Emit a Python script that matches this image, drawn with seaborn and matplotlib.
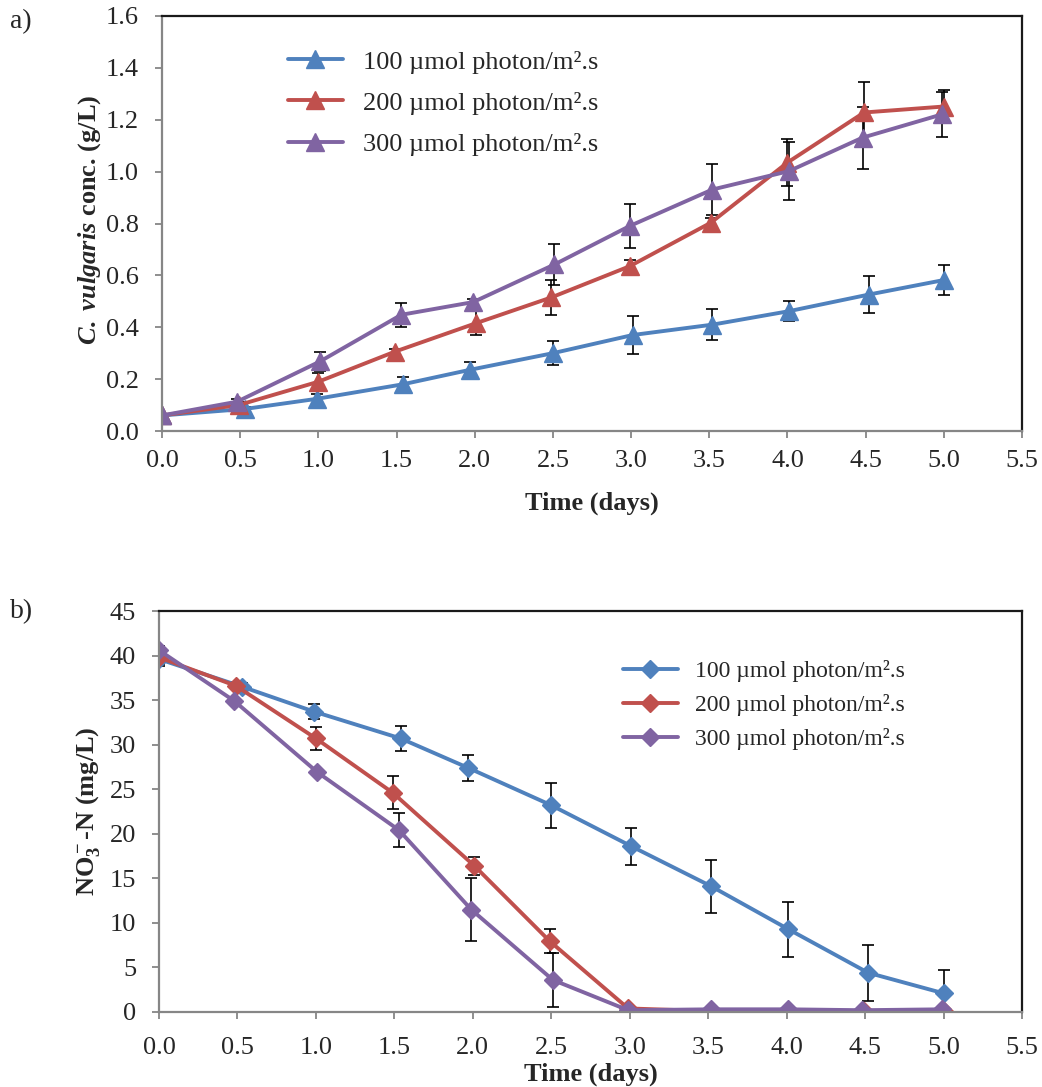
import numpy as np
import pandas as pd
import matplotlib
matplotlib.use("Agg")
import matplotlib.pyplot as plt
from matplotlib.ticker import FormatStrFormatter
import seaborn as sns

# ---------------- data ----------------
series_labels = ["100 µmol photon/m².s", "200 µmol photon/m².s", "300 µmol photon/m².s"]
colors = ["#4F81BD", "#C0504D", "#8064A2"]

time_100 = [0, 0.53, 0.99, 1.54, 1.97, 2.50, 3.01, 3.52, 4.01, 4.52, 5.00]
time_200 = [0, 0.49, 1.00, 1.49, 2.01, 2.49, 2.99, 3.51, 4.00, 4.49, 5.00]
time_300 = [0, 0.48, 1.01, 1.53, 1.99, 2.51, 2.99, 3.52, 4.01, 4.48, 4.99]

# a) C. vulgaris concentration (g/L)
cv_100 = [0.06, 0.085, 0.124, 0.18, 0.236, 0.30, 0.37, 0.41, 0.462, 0.526, 0.582]
cv_100_err = [0.005, 0.008, 0.02, 0.027, 0.03, 0.046, 0.073, 0.06, 0.039, 0.07, 0.058]
cv_200 = [0.06, 0.10, 0.19, 0.306, 0.416, 0.515, 0.635, 0.803, 1.035, 1.228, 1.251]
cv_200_err = [0.005, 0.01, 0.035, 0.01, 0.045, 0.067, 0.023, 0.017, 0.09, 0.118, 0.062]
cv_300 = [0.06, 0.113, 0.268, 0.448, 0.497, 0.642, 0.79, 0.931, 1.002, 1.131, 1.221]
cv_300_err = [0.005, 0.01, 0.036, 0.046, 0.01, 0.078, 0.084, 0.099, 0.112, 0.12, 0.087]

# b) NO3--N (mg/L)
no3_100 = [39.6, 36.5, 33.7, 30.7, 27.4, 23.2, 18.6, 14.1, 9.3, 4.4, 2.1]
no3_100_err = [0.8, 0.4, 0.85, 1.4, 1.46, 2.53, 2.06, 3.0, 3.1, 3.15, 2.6]
no3_200 = [39.8, 36.6, 30.7, 24.6, 16.4, 7.95, 0.4, 0.1, 0.1, 0.1, 0.15]
no3_200_err = [0.8, 0.4, 1.27, 1.84, 1.05, 1.35, 0.2, 0.1, 0.1, 0.1, 0.1]
no3_300 = [40.6, 34.9, 26.9, 20.4, 11.5, 3.6, 0.2, 0.3, 0.3, 0.2, 0.3]
no3_300_err = [0.5, 0.3, 0.3, 1.93, 3.5, 3.07, 0.1, 0.1, 0.1, 0.1, 0.1]

x_ticks = [0.0, 0.5, 1.0, 1.5, 2.0, 2.5, 3.0, 3.5, 4.0, 4.5, 5.0, 5.5]
y_ticks_a = [0.0, 0.2, 0.4, 0.6, 0.8, 1.0, 1.2, 1.4, 1.6]
y_ticks_b = [0, 5, 10, 15, 20, 25, 30, 35, 40, 45]

# ---------------- style ----------------
sns.set_style("ticks")
plt.rcParams["font.family"] = ["Liberation Serif", "DejaVu Serif"]
plt.rcParams["mathtext.fontset"] = "custom"
plt.rcParams["mathtext.rm"] = "Liberation Serif:bold"
plt.rcParams["mathtext.it"] = "Liberation Serif:italic:bold"
plt.rcParams["mathtext.bf"] = "Liberation Serif:bold"

FS = 19
AXIS_GRAY = "#868686"

fig = plt.figure(figsize=(10.42, 10.87), dpi=100)
W, H = 1042, 1087
ax1 = fig.add_axes([162 / W, 1 - 431 / H, (1022 - 162) / W, (431 - 16) / H])
ax2 = fig.add_axes([159 / W, 1 - 1012 / H, (1022 - 159) / W, (1012 - 611) / H])

times = [time_100, time_200, time_300]


def draw(ax, values, errs, marker, ms):
    frames = [pd.DataFrame({"Time": t, "Value": v, "Series": lab})
              for lab, t, v in zip(series_labels, times, values)]
    df = pd.concat(frames, ignore_index=True)
    for t, v, e in zip(times, values, errs):
        ax.errorbar(t, v, yerr=e, fmt="none", ecolor="black", elinewidth=1.2,
                    capsize=4.5, capthick=1.2, zorder=1)
    n0 = len(ax.lines)
    sns.lineplot(data=df, x="Time", y="Value", hue="Series", hue_order=series_labels,
                 palette=dict(zip(series_labels, colors)), estimator=None, sort=False,
                 marker=marker, markersize=ms, linewidth=2.8, legend=False, ax=ax, zorder=2)
    new_lines = ax.lines[n0:]
    for ln in new_lines:
        ln.set_markeredgecolor(ln.get_color())
        ln.set_markeredgewidth(1.0)
    return new_lines


def style_axes(ax, yticks, yfmt, xpad):
    ax.set_xlim(0, 5.5)
    ax.set_ylim(yticks[0], yticks[-1])
    ax.set_xticks(x_ticks)
    ax.set_yticks(yticks)
    ax.xaxis.set_major_formatter(FormatStrFormatter("%.1f"))
    ax.yaxis.set_major_formatter(FormatStrFormatter(yfmt))
    ax.tick_params(axis="both", direction="out", length=5, width=1.3, color=AXIS_GRAY,
                   labelsize=FS)
    ax.tick_params(axis="x", pad=xpad)
    ax.tick_params(axis="y", pad=11.5)
    for s in ["left", "bottom"]:
        ax.spines[s].set_color(AXIS_GRAY)
        ax.spines[s].set_linewidth(1.6)
    for s in ["top", "right"]:
        ax.spines[s].set_visible(True)
        ax.spines[s].set_color("#1a1a1a")
        ax.spines[s].set_linewidth(1.6)
    ax.grid(False)


# ---- panel a ----
lines_a = draw(ax1, [cv_100, cv_200, cv_300], [cv_100_err, cv_200_err, cv_300_err], "^", 12.5)
style_axes(ax1, y_ticks_a, "%.1f", 9)
ax1.set_xlabel("Time (days)", fontsize=FS, fontweight="bold")
ax1.xaxis.set_label_coords(0.5, -0.147)
ax1.set_ylabel(r"$\mathit{C.}$ $\mathit{vulgaris}$ conc. (g/L)", fontsize=FS, fontweight="bold")
ax1.yaxis.set_label_coords(-0.069, 0.51)
ax1.legend(handles=lines_a, labels=series_labels, frameon=False, loc="upper left",
           bbox_to_anchor=((288 - 162) / 860, 0.918), borderaxespad=0, borderpad=0,
           handlelength=2.08, handletextpad=0.76, labelspacing=0.67, fontsize=FS,
           numpoints=1)

# ---- panel b ----
lines_b = draw(ax2, [no3_100, no3_200, no3_300], [no3_100_err, no3_200_err, no3_300_err], "D", 9)
style_axes(ax2, y_ticks_b, "%d", 13)
ax2.set_xlabel("Time (days)", fontsize=FS, fontweight="bold")
ax2.xaxis.set_label_coords(0.5, -0.127)
ax2.set_ylabel(r"NO$_3^-$-N (mg/L)", fontsize=FS, fontweight="bold")
ax2.yaxis.set_label_coords(-0.066, 0.50)
ax2.legend(handles=lines_b, labels=series_labels, frameon=False, loc="upper left",
           bbox_to_anchor=((622.7 - 159) / 863, 0.878), borderaxespad=0, borderpad=0,
           handlelength=2.33, handletextpad=0.73, labelspacing=0.51, fontsize=17,
           numpoints=1)

fig.text(10 / W, 1 - 22 / H, "a)", fontsize=FS + 1, va="center", ha="left")
fig.text(10 / W, 1 - 612 / H, "b)", fontsize=FS + 1, va="center", ha="left")

fig.savefig("out.png", dpi=100)
